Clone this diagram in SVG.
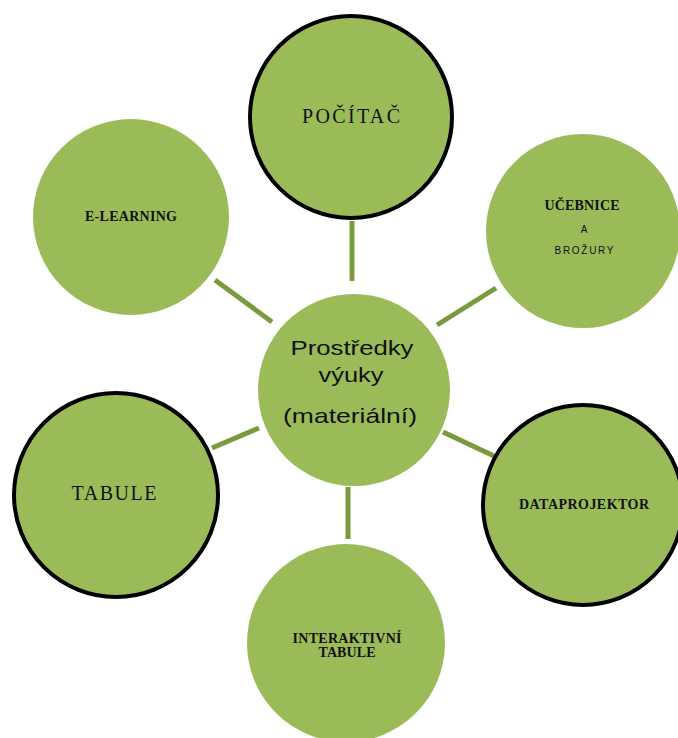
<svg xmlns="http://www.w3.org/2000/svg" width="678" height="738" viewBox="0 0 678 738">
<style>
.n{fill:#9bbb59}
.b{stroke:#000;stroke-width:4}
.c line{stroke:#7a9a3e;stroke-width:5}
.s{font-family:"Liberation Serif",serif;fill:#111;text-anchor:middle;font-size:20px}
.bs{font-family:"Liberation Serif",serif;font-weight:900;fill:#111;text-anchor:middle;font-size:14px}
.sa{font-family:"Liberation Sans",sans-serif;fill:#111;text-anchor:middle;font-size:10px}
.cs{font-family:"Liberation Sans",sans-serif;fill:#111;text-anchor:middle;font-size:21px}
</style>
<rect width="678" height="738" fill="#fff"/>
<g class="c" id="connectors">
<line x1="352" y1="221" x2="352" y2="281"/>
<line x1="437" y1="325" x2="496" y2="288"/>
<line x1="215" y1="280" x2="272" y2="322"/>
<line x1="212" y1="448" x2="259" y2="428"/>
<line x1="443" y1="432" x2="494" y2="456"/>
<line x1="348" y1="487" x2="348" y2="539"/>
</g>
<g id="center">
<circle class="n" cx="354" cy="390" r="96"/>
<text class="cs" x="352" y="355" textLength="123" lengthAdjust="spacingAndGlyphs">Prostředky</text>
<text class="cs" x="351" y="382" textLength="65" lengthAdjust="spacingAndGlyphs">výuky</text>
<text class="cs" x="350" y="423" textLength="134" lengthAdjust="spacingAndGlyphs">(materiální)</text>
</g>
<g id="pocitac">
<circle class="n b" cx="351" cy="117" r="101"/>
<text class="s" x="351" y="123" textLength="98">POČÍTAČ</text>
</g>
<g id="ucebnice">
<circle class="n" cx="583" cy="231" r="97"/>
<text class="bs" x="582" y="210" textLength="75">UČEBNICE</text>
<text class="sa" x="584" y="233">A</text>
<text class="sa" x="584" y="254" textLength="59">BROŽURY</text>
</g>
<g id="elearning">
<circle class="n" cx="131" cy="217" r="98"/>
<text class="bs" x="131" y="221" textLength="92">E-LEARNING</text>
</g>
<g id="tabule">
<circle class="n b" cx="116" cy="495" r="102"/>
<text class="s" x="114" y="500" textLength="85">TABULE</text>
</g>
<g id="dataprojektor">
<circle class="n b" cx="583" cy="505" r="100"/>
<text class="bs" x="584" y="509" textLength="130">DATAPROJEKTOR</text>
</g>
<g id="interaktivni">
<circle class="n" cx="346" cy="643" r="99"/>
<text class="bs" x="347" y="643" textLength="109">INTERAKTIVNÍ</text>
<text class="bs" x="347" y="657" textLength="57">TABULE</text>
</g>
</svg>
